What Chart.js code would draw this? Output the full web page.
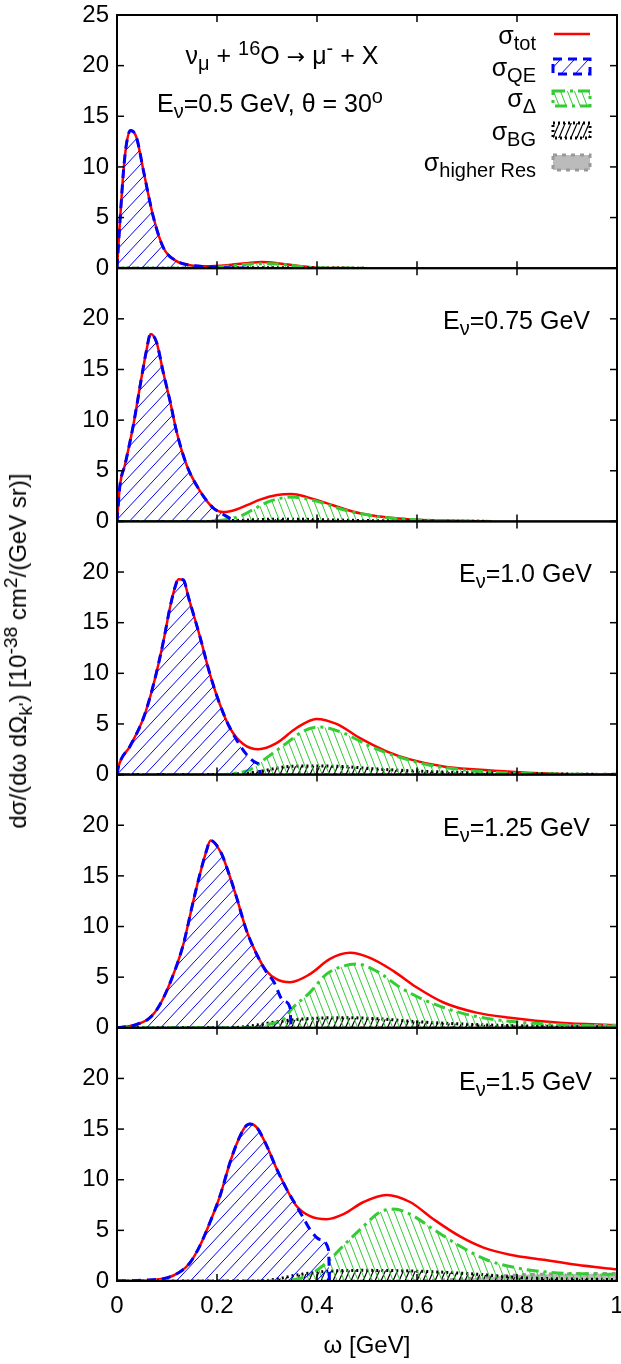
<!DOCTYPE html>
<html>
<head>
<meta charset="utf-8">
<script src="https://cdn.jsdelivr.net/npm/chart.js@4.4.1/dist/chart.umd.min.js"></script>
<style>
  body { margin: 0; background: #fff; }
  #wrap { position: relative; width: 621px; height: 1364px; font-family: "Liberation Sans", Arial, sans-serif; color: #000; }
  #chart { position: absolute; left: 0; top: 0; }
  .lbl { position: absolute; font-size: 25px; line-height: 1; white-space: nowrap; }
  .r { text-align: right; }
  .arrow { font-family: "DejaVu Sans", sans-serif; font-size: 22px; }
  sub, sup { font-size: 0.8em; line-height: 0; }
  #ytitle { position: absolute; left: 18px; top: 651px; font-size: 24px; white-space: nowrap; transform: translate(-50%, -50%) rotate(-90deg); }
</style>
</head>
<body>
<div id="wrap">
  <canvas id="chart" width="621" height="1364"></canvas>
  <div class="lbl" style="left:282px; top:43px; transform:translateX(-50%);">ν<sub>μ</sub> + <sup>16</sup>O <span class="arrow">→</span> μ<sup>-</sup> + X</div>
  <div class="lbl" style="left:270px; top:91px; transform:translateX(-50%);">E<sub>ν</sub>=0.5 GeV, θ = 30<sup>o</sup></div>

  <div class="lbl r" style="right:85px; top:23px;">σ<sub>tot</sub></div>
  <div class="lbl r" style="right:85px; top:55px;">σ<sub>QE</sub></div>
  <div class="lbl r" style="right:85px; top:86px;">σ<sub>Δ</sub></div>
  <div class="lbl r" style="right:85px; top:119px;">σ<sub>BG</sub></div>
  <div class="lbl r" style="right:85px; top:150px;">σ<sub>higher Res</sub></div>

  <div class="lbl r" style="right:31px; top:308px;">E<sub>ν</sub>=0.75 GeV</div>
  <div class="lbl r" style="right:29px; top:561px;">E<sub>ν</sub>=1.0 GeV</div>
  <div class="lbl r" style="right:31px; top:815px;">E<sub>ν</sub>=1.25 GeV</div>
  <div class="lbl r" style="right:29px; top:1069px;">E<sub>ν</sub>=1.5 GeV</div>

  <div id="ytitle">dσ/(dω dΩ<sub>k'</sub>) [10<sup>-38</sup> cm<sup>2</sup>/(GeV sr)]</div>
</div>
<script>
// panel 1: E = 0.5 GeV
const wTot1 = [0, 0.006, 0.013, 0.019, 0.027, 0.039, 0.053, 0.073, 0.093, 0.119, 0.146, 0.18, 0.22, 0.26, 0.29, 0.32, 0.36, 0.4, 0.45, 0.5];
const tot1  = [0, 4.7, 9.6, 12.3, 13.6, 12.9, 9.6, 5.0, 2.0, 0.7, 0.3, 0.2, 0.3, 0.5, 0.6, 0.5, 0.25, 0.05, 0.01, 0];
const wQE1  = [0, 0.006, 0.013, 0.019, 0.027, 0.039, 0.053, 0.073, 0.093, 0.119, 0.146, 0.18, 0.22, 0.26];
const qe1   = [0, 4.7, 9.6, 12.3, 13.6, 12.9, 9.6, 5.0, 2.0, 0.7, 0.3, 0.15, 0.05, 0];
const wD1   = [0, 0.15, 0.2, 0.24, 0.27, 0.3, 0.33, 0.36, 0.4, 0.45, 0.5];
const del1  = [0, 0, 0.1, 0.3, 0.42, 0.45, 0.38, 0.2, 0.05, 0.01, 0];
const wBG1  = [0, 0.15, 0.25, 0.35, 0.45, 0.5];
const bg1   = [0, 0, 0.05, 0.04, 0.01, 0];
const wHR1  = [0, 0.5];
const hr1   = [0, 0];

// panel 2: E = 0.75 GeV
const wTot2 = [0, 0.006, 0.016, 0.033, 0.049, 0.059, 0.067, 0.079, 0.093, 0.106, 0.119, 0.139, 0.166, 0.193, 0.213, 0.24, 0.26, 0.286, 0.32, 0.349, 0.38, 0.419, 0.45, 0.486, 0.53, 0.586, 0.65, 0.7, 0.75];
const tot2  = [0, 3.6, 5.6, 9.6, 14.2, 16.9, 18.5, 17.7, 14.6, 11.9, 8.9, 5.6, 3.0, 1.3, 0.92, 1.2, 1.6, 2.15, 2.6, 2.7, 2.4, 1.8, 1.3, 0.8, 0.45, 0.2, 0.08, 0.03, 0];
const wQE2  = [0, 0.006, 0.016, 0.033, 0.049, 0.059, 0.067, 0.079, 0.093, 0.106, 0.119, 0.139, 0.166, 0.193, 0.206, 0.219, 0.23, 0.24];
const qe2   = [0, 3.6, 5.6, 9.6, 14.2, 16.9, 18.5, 17.7, 14.6, 11.9, 8.9, 5.6, 3.0, 1.3, 0.9, 0.5, 0.2, 0];
const wD2   = [0, 0.18, 0.22, 0.25, 0.266, 0.306, 0.349, 0.399, 0.453, 0.519, 0.586, 0.65, 0.75];
const del2  = [0, 0, 0.2, 0.6, 1.0, 2.0, 2.4, 2.0, 1.15, 0.5, 0.2, 0.07, 0];
const wBG2  = [0, 0.18, 0.24, 0.3, 0.35, 0.4, 0.5, 0.6, 0.75];
const bg2   = [0, 0, 0.1, 0.2, 0.22, 0.18, 0.08, 0.03, 0];
const wHR2  = [0, 0.75];
const hr2   = [0, 0];

// panel 3: E = 1.0 GeV
const wTot3 = [0, 0.003, 0.026, 0.053, 0.073, 0.093, 0.106, 0.116, 0.123, 0.133, 0.143, 0.166, 0.186, 0.206, 0.226, 0.253, 0.283, 0.319, 0.359, 0.399, 0.439, 0.486, 0.539, 0.586, 0.653, 0.719, 0.796, 0.886, 0.95, 1.0];
const tot3  = [0, 0.8, 2.8, 5.6, 8.9, 13.2, 16.5, 18.5, 19.3, 19.2, 17.5, 13.6, 9.9, 6.9, 4.6, 3.0, 2.5, 3.1, 4.6, 5.5, 5.0, 3.6, 2.3, 1.5, 0.8, 0.5, 0.26, 0.07, 0.02, 0];
const wQE3  = [0, 0.003, 0.026, 0.053, 0.073, 0.093, 0.106, 0.116, 0.123, 0.133, 0.143, 0.166, 0.186, 0.206, 0.226, 0.259, 0.279, 0.285, 0.287];
const qe3   = [0, 0.8, 2.8, 5.6, 8.9, 13.2, 16.5, 18.5, 19.3, 19.2, 17.5, 13.6, 9.9, 6.9, 4.6, 2.0, 1.15, 0.9, 0];
const wD3   = [0, 0.2, 0.24, 0.266, 0.299, 0.339, 0.373, 0.406, 0.453, 0.506, 0.559, 0.619, 0.686, 0.786, 0.9, 1.0];
const del3  = [0, 0, 0.15, 0.5, 1.65, 3.1, 4.3, 4.7, 4.1, 2.8, 1.8, 1.0, 0.5, 0.15, 0.04, 0];
const wBG3  = [0, 0.2, 0.25, 0.29, 0.333, 0.38, 0.45, 0.52, 0.6, 0.7, 0.8, 0.9, 1.0];
const bg3   = [0, 0, 0.1, 0.35, 0.75, 0.85, 0.8, 0.55, 0.35, 0.2, 0.1, 0.05, 0];
const wHR3  = [0, 0.7, 0.85, 1.0];
const hr3   = [0, 0, 0.03, 0.05];

// panel 4: E = 1.25 GeV
const wTot4 = [0, 0.039, 0.066, 0.086, 0.113, 0.133, 0.153, 0.166, 0.179, 0.187, 0.209, 0.219, 0.239, 0.259, 0.279, 0.299, 0.319, 0.346, 0.386, 0.426, 0.466, 0.506, 0.553, 0.599, 0.653, 0.719, 0.786, 0.886, 1.0];
const tot4  = [0, 0.33, 1.0, 2.3, 5.3, 8.3, 12.6, 15.2, 17.5, 18.5, 17.2, 15.9, 12.9, 9.6, 7.3, 5.6, 4.8, 4.5, 5.3, 6.8, 7.4, 6.9, 5.6, 4.0, 2.5, 1.5, 1.0, 0.5, 0.25];
const wQE4  = [0, 0.039, 0.066, 0.086, 0.113, 0.133, 0.153, 0.166, 0.179, 0.187, 0.209, 0.219, 0.239, 0.259, 0.279, 0.299, 0.313, 0.333, 0.346, 0.348];
const qe4   = [0, 0.33, 1.0, 2.3, 5.3, 8.3, 12.6, 15.2, 17.5, 18.5, 17.2, 15.9, 12.9, 9.6, 7.3, 5.5, 4.6, 2.65, 2.0, 0];
const wD4   = [0, 0.26, 0.3, 0.339, 0.346, 0.386, 0.419, 0.453, 0.479, 0.519, 0.566, 0.619, 0.686, 0.753, 0.853, 0.95, 1.0];
const del4  = [0, 0, 0.3, 1.1, 1.65, 3.5, 5.3, 6.1, 6.3, 5.6, 4.0, 2.65, 1.5, 0.83, 0.4, 0.2, 0.15];
const wBG4  = [0, 0.22, 0.27, 0.32, 0.38, 0.45, 0.52, 0.6, 0.7, 0.8, 0.9, 1.0];
const bg4   = [0, 0, 0.2, 0.6, 0.9, 1.0, 0.9, 0.6, 0.35, 0.2, 0.12, 0.08];
const wHR4  = [0, 0.6, 0.7, 0.8, 0.9, 1.0];
const hr4   = [0, 0, 0.05, 0.15, 0.22, 0.25];

// panel 5: E = 1.5 GeV
const wTot5 = [0, 0.053, 0.099, 0.126, 0.146, 0.166, 0.186, 0.206, 0.226, 0.239, 0.256, 0.266, 0.279, 0.299, 0.319, 0.339, 0.359, 0.386, 0.419, 0.453, 0.493, 0.539, 0.586, 0.633, 0.686, 0.733, 0.786, 0.853, 0.919, 1.0];
const tot5  = [0, 0.08, 0.3, 0.9, 1.8, 3.5, 5.8, 8.4, 11.7, 13.5, 15.2, 15.5, 15.2, 13.4, 11.1, 9.1, 7.4, 6.4, 6.1, 6.6, 7.8, 8.5, 7.8, 6.1, 4.4, 3.3, 2.6, 2.1, 1.6, 1.15];
const wQE5  = [0, 0.053, 0.099, 0.126, 0.146, 0.166, 0.186, 0.206, 0.226, 0.239, 0.256, 0.266, 0.279, 0.299, 0.319, 0.339, 0.359, 0.373, 0.386, 0.406, 0.423, 0.425];
const qe5   = [0, 0.08, 0.3, 0.9, 1.8, 3.5, 5.8, 8.4, 11.7, 13.5, 15.2, 15.5, 15.2, 13.4, 11.1, 9.1, 7.4, 6.2, 5.1, 4.1, 3.1, 0];
const wD5   = [0, 0.33, 0.36, 0.386, 0.419, 0.453, 0.493, 0.526, 0.553, 0.586, 0.633, 0.686, 0.739, 0.799, 0.866, 0.95, 1.0];
const del5  = [0, 0, 0.2, 0.65, 1.8, 3.5, 5.4, 6.8, 7.1, 6.6, 5.1, 3.45, 2.1, 1.3, 0.85, 0.7, 0.65];
const wBG5  = [0, 0.28, 0.32, 0.36, 0.42, 0.5, 0.58, 0.66, 0.74, 0.8, 0.9, 1.0];
const bg5   = [0, 0, 0.2, 0.6, 0.95, 1.05, 1.0, 0.85, 0.6, 0.35, 0.2, 0.15];
const wHR5  = [0, 0.55, 0.65, 0.72, 0.8, 0.9, 1.0];
const hr5   = [0, 0, 0.1, 0.3, 0.6, 0.7, 0.75];

const yTicks = [0, 5, 10, 15, 20, 25];
const xTicks = [0, 0.2, 0.4, 0.6, 0.8, 1];

const panels = [
  { id: 'y1', tot: [wTot1, tot1], qe: [wQE1, qe1], del: [wD1, del1], bg: [wBG1, bg1], hr: [wHR1, hr1] },
  { id: 'y2', tot: [wTot2, tot2], qe: [wQE2, qe2], del: [wD2, del2], bg: [wBG2, bg2], hr: [wHR2, hr2] },
  { id: 'y3', tot: [wTot3, tot3], qe: [wQE3, qe3], del: [wD3, del3], bg: [wBG3, bg3], hr: [wHR3, hr3] },
  { id: 'y4', tot: [wTot4, tot4], qe: [wQE4, qe4], del: [wD4, del4], bg: [wBG4, bg4], hr: [wHR4, hr4] },
  { id: 'y5', tot: [wTot5, tot5], qe: [wQE5, qe5], del: [wD5, del5], bg: [wBG5, bg5], hr: [wHR5, hr5] }
];

const FONT = '"Liberation Sans", Arial, sans-serif';
const canvas = document.getElementById('chart');
const ctx = canvas.getContext('2d');

function hatch(color, w, h, back, lw) {
  const c = document.createElement('canvas');
  c.width = w; c.height = h;
  const g = c.getContext('2d');
  g.strokeStyle = color;
  g.lineWidth = lw;
  for (const dx of [-w, 0, w]) {
    g.beginPath();
    if (back) { g.moveTo(dx, 0); g.lineTo(dx + w, h); }
    else { g.moveTo(dx, h); g.lineTo(dx + w, 0); }
    g.stroke();
  }
  return ctx.createPattern(c, 'repeat');
}

const blueHatch = hatch('#0000ff', 14, 15, false, 1);
const greenHatch = hatch('#33cc33', 7, 18, true, 1);
const blackHatch = hatch('#000000', 6, 14, false, 1.2);

const styles = {
  tot: { borderColor: '#ff0000', borderWidth: 2.5, fill: false, order: 5 },
  qe:  { borderColor: '#0000ff', borderWidth: 3, borderDash: [9, 6], fill: 'origin', backgroundColor: blueHatch, order: 1 },
  del: { borderColor: '#33cc33', borderWidth: 3, borderDash: [12, 5, 3, 5], fill: 'origin', backgroundColor: greenHatch, order: 2 },
  bg:  { borderColor: '#000000', borderWidth: 3, borderDash: [2, 3], fill: 'origin', backgroundColor: blackHatch, order: 3 },
  hr:  { borderColor: '#999999', borderWidth: 3, borderDash: [4, 5], fill: 'origin', backgroundColor: '#bbbbbb', order: 4 }
};

const datasets = [];
panels.forEach(p => {
  ['hr', 'bg', 'del', 'qe', 'tot'].forEach(key => {
    const [w, v] = p[key];
    datasets.push(Object.assign({
      label: key,
      data: w.map((x, i) => ({ x: x, y: v[i] })),
      yAxisID: p.id,
      pointRadius: 0,
      cubicInterpolationMode: 'monotone'
    }, styles[key]));
  });
});

const noPad = s => { s.paddingLeft = 0; s.paddingRight = 0; s.paddingTop = 0; s.paddingBottom = 0; };

const scales = {
  x: {
    type: 'linear', min: 0, max: 1,
    grid: { display: false, drawTicks: false },
    border: { display: false },
    afterBuildTicks: s => { s.ticks = xTicks.map(v => ({ value: v })); },
    ticks: { autoSkip: false, maxRotation: 0, padding: 11, color: '#000', font: { size: 24, family: FONT }, callback: v => String(v) },
    title: { display: true, text: 'ω [GeV]', color: '#000', font: { size: 24, family: FONT }, padding: { top: 0, bottom: 3 } },
    afterFit: s => { s.height = 83; noPad(s); }
  }
};
// stacked axes are laid out bottom-up, so add the lowest panel first
panels.slice().reverse().forEach(p => {
  const first = p.id === 'y1';
  scales[p.id] = {
    type: 'linear', min: 0, max: 25, position: 'left',
    stack: 'panels', stackWeight: 1,
    grid: { display: false, drawTicks: false },
    border: { display: false },
    afterBuildTicks: s => { s.ticks = yTicks.map(v => ({ value: v })); },
    ticks: {
      autoSkip: false, padding: 8, color: '#000', font: { size: 24, family: FONT },
      callback: v => (v === 25 && !first) ? '' : String(v)
    },
    afterFit: s => { s.width = 117; noPad(s); }
  };
});

// gnuplot-like frame with inward ticks, plus the key swatches
const frame = {
  id: 'frame',
  afterDraw(chart) {
    const c = chart.ctx;
    const x = chart.scales.x;
    const L = x.left, R = x.right;
    const seg = (x1, y1, x2, y2) => { c.beginPath(); c.moveTo(x1, y1); c.lineTo(x2, y2); c.stroke(); };
    c.save();
    c.strokeStyle = '#000';
    panels.forEach(p => {
      const s = chart.scales[p.id];
      c.lineWidth = 1.5;
      c.setLineDash([]);
      yTicks.forEach(v => {
        const py = s.getPixelForValue(v);
        seg(L, py, L + 7, py);
        seg(R - 7, py, R, py);
      });
      xTicks.forEach(v => {
        const px = x.getPixelForValue(v);
        seg(px, s.bottom, px, s.bottom - 7);
        seg(px, s.top, px, s.top + 7);
      });
      c.lineWidth = 2;
      c.strokeRect(L, s.top, R - L, s.bottom - s.top);
    });

    // key
    c.lineWidth = 2.5;
    c.strokeStyle = '#ff0000';
    seg(554, 34, 590, 34);
    const boxes = [['qe', 59], ['del', 91], ['bg', 123], ['hr', 155]];
    boxes.forEach(([key, top]) => {
      const st = styles[key];
      c.fillStyle = st.backgroundColor;
      c.fillRect(553, top, 37, 15);
      c.strokeStyle = st.borderColor;
      c.lineWidth = st.borderWidth;
      c.setLineDash(st.borderDash);
      c.strokeRect(553, top, 37, 15);
    });
    c.restore();
  }
};

new Chart(canvas, {
  type: 'line',
  data: { datasets: datasets },
  options: {
    responsive: false,
    animation: false,
    layout: { padding: { top: 15, right: 4, left: 0, bottom: 0 } },
    plugins: { legend: { display: false }, tooltip: { enabled: false } },
    scales: scales
  },
  plugins: [frame]
});
</script>
</body>
</html>
